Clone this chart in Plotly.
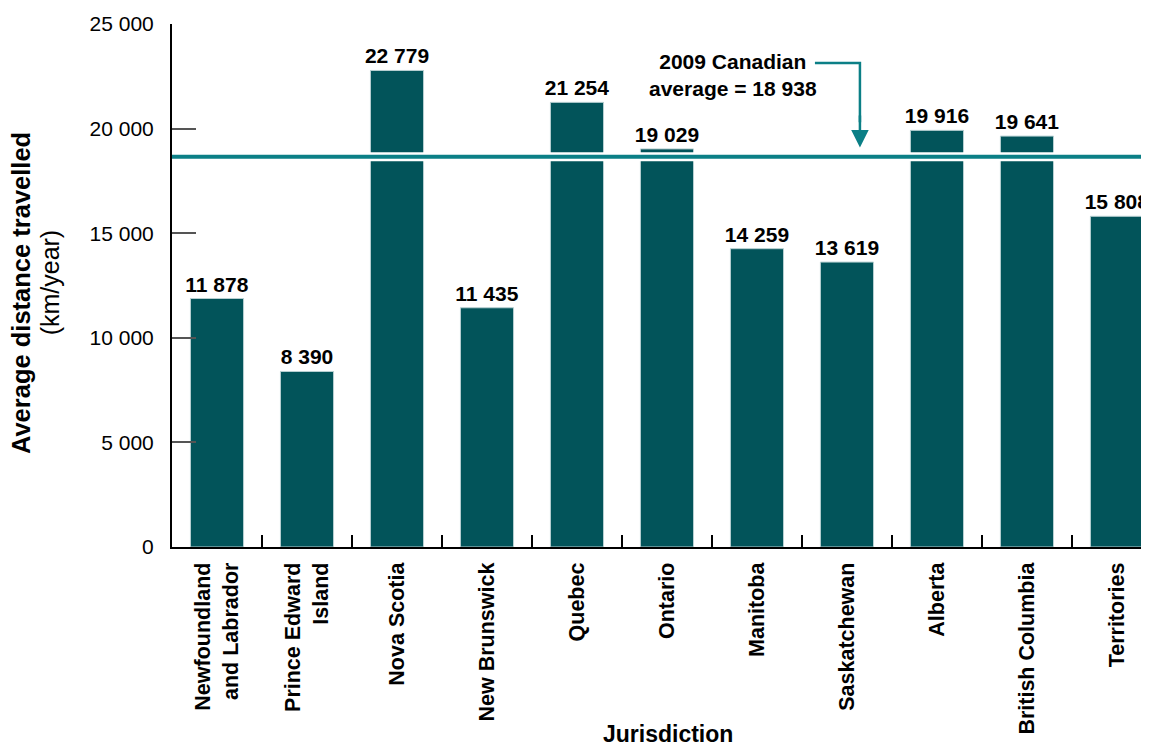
import plotly.graph_objects as go

categories = ["Newfoundland<br>and Labrador", "Prince Edward<br>Island", "Nova Scotia",
              "New Brunswick", "Quebec", "Ontario", "Manitoba", "Saskatchewan",
              "Alberta", "British Columbia", "Territories"]
values = [11878, 8390, 22779, 11435, 21254, 19029, 14259, 13619, 19916, 19641, 15808]
value_labels = ["11 878", "8 390", "22 779", "11 435", "21 254", "19 029", "14 259",
                "13 619", "19 916", "19 641", "15 808"]
y_tickvals = [0, 5000, 10000, 15000, 20000, 25000]
y_ticktext = ["0", "5 000", "10 000", "15 000", "20 000", "25 000"]
avg_label = "2009 Canadian<br>average = 18 938"
avg_line_drawn = 18650  # where the line sits in the picture

BAR = "#02545a"
LINE = "#0b7f86"
FONT = "Liberation Sans, Arial, sans-serif"

fig = go.Figure()
fig.add_trace(go.Bar(
    x=categories, y=values, width=0.59,
    marker=dict(color=BAR, line=dict(color="#b8d0d2", width=1)),
    text=["<b>%s</b>" % t for t in value_labels], textposition="outside",
    constraintext="none",
    textfont=dict(family=FONT, size=21, color="black"), cliponaxis=False,
))

# average line with white halo
fig.add_shape(type="line", xref="paper", x0=0, x1=1, yref="y", y0=avg_line_drawn, y1=avg_line_drawn,
              line=dict(color="white", width=9), layer="above")
fig.add_shape(type="line", xref="paper", x0=0, x1=1, yref="y", y0=avg_line_drawn, y1=avg_line_drawn,
              line=dict(color=LINE, width=4), layer="above")

# callout
fig.add_annotation(x=5.733, y=22560, xref="x", yref="y", text="<b>%s</b>" % avg_label,
                   showarrow=False, font=dict(family=FONT, size=21, color="black"),
                   align="center", xanchor="center", yanchor="middle")
fig.add_shape(type="path", xref="x", yref="y",
              path="M 6.644,23140 L 7.144,23140 L 7.144,20300",
              line=dict(color=LINE, width=2.5), layer="above")
fig.add_annotation(x=7.144, y=19100, ax=7.144, ay=20700, xref="x", yref="y", axref="x", ayref="y",
                   text="", showarrow=True, arrowhead=2, arrowsize=1.4, arrowwidth=2.5,
                   arrowcolor=LINE)

# axis titles
fig.add_annotation(x=-0.1545, y=0.4857, xref="paper", yref="paper", text="<b>Average distance travelled</b>",
                   textangle=-90, showarrow=False, xanchor="center", yanchor="middle",
                   font=dict(family=FONT, size=25.5, color="black"))
fig.add_annotation(x=-0.1245, y=0.5067, xref="paper", yref="paper", text="(km/year)",
                   textangle=-90, showarrow=False, xanchor="center", yanchor="middle",
                   font=dict(family=FONT, size=25, color="black"))
fig.add_annotation(x=0.5077, y=-0.3575, xref="paper", yref="paper", text="<b>Jurisdiction</b>",
                   showarrow=False, xanchor="center", yanchor="middle",
                   font=dict(family=FONT, size=23, color="black"))

fig.update_layout(
    width=1149, height=744,
    margin=dict(l=164, r=8, t=16, b=205, autoexpand=False),
    plot_bgcolor="white", paper_bgcolor="white",
    showlegend=False,
    font=dict(family=FONT, color="black"),
)
fig.update_xaxes(
    range=[-0.5, 10.356], type="category", automargin=False,
    showline=True, linecolor="black", linewidth=2,
    ticks="inside", ticklen=12, tickcolor="black", tickwidth=2, tickson="boundaries",
    tickangle=-90, tickfont=dict(family=FONT, size=21.5, color="black"), ticklabelstandoff=5,
    tickvals=categories, ticktext=["<b>%s</b>" % c for c in categories],
    showgrid=False, zeroline=False,
)
fig.update_yaxes(
    range=[0, 25000], tickvals=y_tickvals, ticktext=y_ticktext, automargin=False,
    showline=True, linecolor="black", linewidth=2,
    ticks="inside", ticklen=24, tickcolor="#555", tickwidth=1.5,
    tickfont=dict(family=FONT, size=21, color="black"), ticklabelstandoff=12,
    showgrid=False, zeroline=False,
)

fig.write_html("out.html")
